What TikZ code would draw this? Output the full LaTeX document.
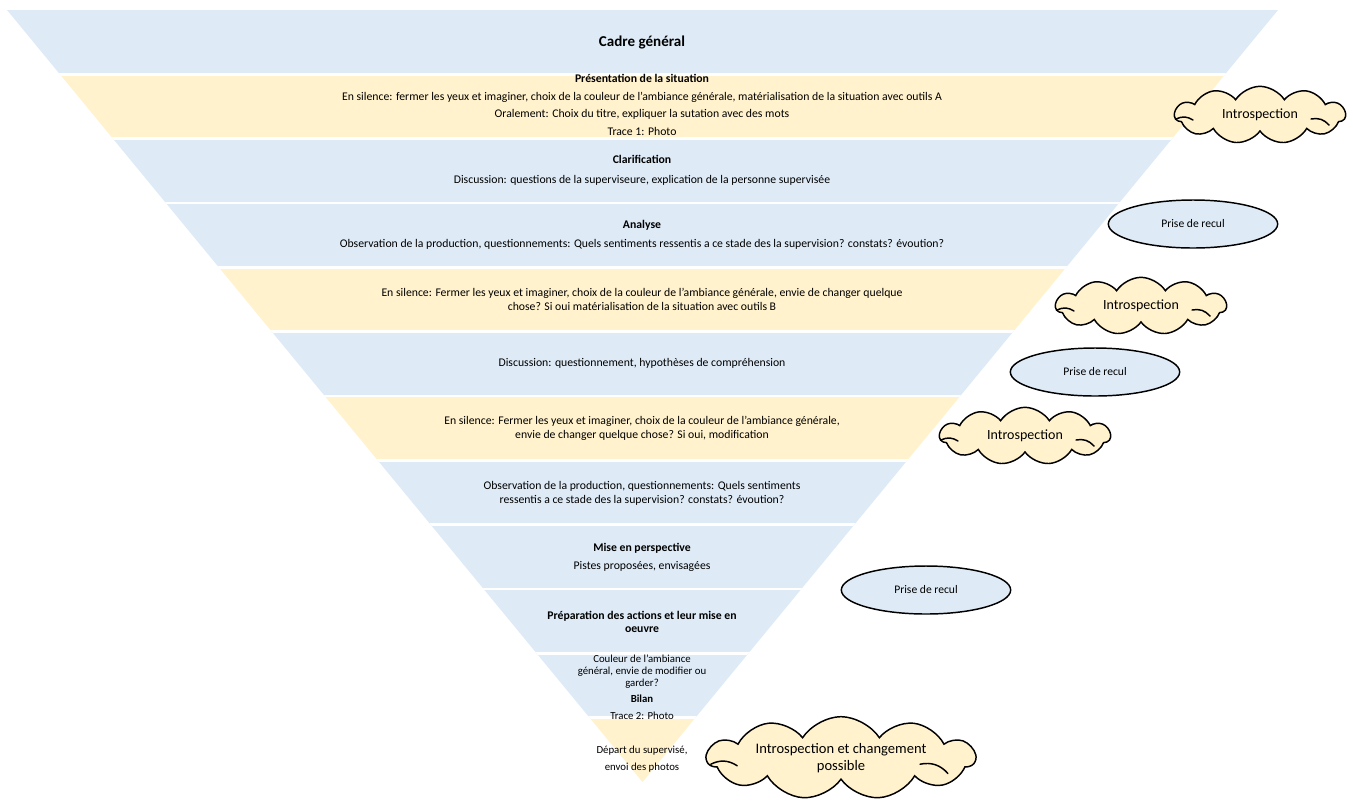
\documentclass[tikz,border=0pt]{standalone}
\usepackage{fontspec}
\setmainfont{Carlito}
\usetikzlibrary{shapes.symbols}
\usetikzlibrary{shapes.geometric}
\definecolor{bandblue}{HTML}{DEEBF7}
\definecolor{bandyellow}{HTML}{FFF2CC}
\tikzset{
  bandtext/.style={align=center, inner sep=0pt, font=\fontsize{8.8}{10.5}\selectfont},
  recul/.style={ellipse, draw=black, line width=1.1pt, fill=bandblue, minimum width=127pt,
    minimum height=36pt, inner sep=0pt, font=\fontsize{8.7}{10}\selectfont},
  intro/.style={cloud, cloud puffs=11, cloud puff arc=115, cloud ignores aspect, draw=black,
    line width=1.1pt, fill=bandyellow, minimum width=128pt, minimum height=43pt, inner sep=0pt,
    align=center, font=\fontsize{10.5}{12}\selectfont},
  curl/.style={line width=1.1pt, line cap=round}
}
% small inner arcs of the clouds
\newcommand\cloudcurls[2]{%
  \draw [curl] (#1.center) ++(-84*#2,4*#2) to[bend left=30] ++(17*#2,1*#2);
  \draw [curl] (#1.center) ++(51*#2,4*#2) to[bend left=30] ++(18*#2,6*#2);
}
\begin{document}
\begin{tikzpicture}[x=0.75pt, y=-0.75pt]
    \useasboundingbox (0,0) rectangle (1353,801);

    % inverted pyramid, one band per step
    \begin{scope}
      \clip (7,10) -- (1278,10) -- (642.5,782) -- cycle;
      \foreach \col [count=\i from 0] in {bandblue,bandyellow,bandblue,bandblue,bandyellow,bandblue,
          bandyellow,bandblue,bandblue,bandblue,bandblue,bandyellow}
        \fill [\col] (0,10+\i*64.33) rectangle (1353,74.33+\i*64.33);
      \foreach \i in {1,...,11}
        \draw [white, line width=1.9pt] (0,10+\i*64.33) -- (1353,10+\i*64.33);
    \end{scope}

    \node [bandtext, font=\fontsize{11.3}{13}\bfseries] (cadre) at (642,42) {Cadre général};
    \node [bandtext, font=\fontsize{8.8}{13.3}\selectfont] (presentation) at (642,105)
      {\textbf{Présentation de la situation}\\
       En silence: fermer les yeux et imaginer, choix de la couleur de l'ambiance générale, matérialisation de la situation avec outils A\\
       Oralement: Choix du titre, expliquer la sutation avec des mots\\
       Trace 1: Photo};
    \node [bandtext, font=\fontsize{8.8}{15}\selectfont] (clarif) at (642,170)
      {\textbf{Clarification}\\
       Discussion: questions de la superviseure, explication de la personne supervisée};
    \node [bandtext, font=\fontsize{8.8}{14.3}\selectfont] (analyse) at (642,235)
      {\textbf{Analyse}\\
       Observation de la production, questionnements: Quels sentiments ressentis a ce stade des la supervision? constats? évoution?};
    \node [bandtext] (silenceB) at (642,299)
      {En silence: Fermer les yeux et imaginer, choix de la couleur de l'ambiance générale, envie de changer quelque\\
       chose? Si oui matérialisation de la situation avec outils B};
    \node [bandtext] (discussion) at (642,363) {Discussion: questionnement, hypothèses de compréhension};
    \node [bandtext] (silenceC) at (642,428)
      {En silence: Fermer les yeux et imaginer, choix de la couleur de l'ambiance générale,\\
       envie de changer quelque chose? Si oui, modification};
    \node [bandtext] (observation) at (642,493)
      {Observation de la production, questionnements: Quels sentiments\\
       ressentis a ce stade des la supervision? constats? évoution?};
    \node [bandtext, font=\fontsize{8.8}{13.5}\selectfont] (perspective) at (642,557)
      {\textbf{Mise en perspective}\\
       Pistes proposées, envisagées};
    \node [bandtext, font=\fontsize{8.8}{10}\bfseries] (preparation) at (642,622)
      {Préparation des actions et leur mise en\\oeuvre};
    \node [bandtext, font=\fontsize{8.1}{9}\selectfont] (bilan) at (642,687)
      {Couleur de l'ambiance\\
       général, envie de modifier ou\\
       garder?\\[3pt]
       \textbf{Bilan}\\[3.5pt]
       Trace 2: Photo};
    \node [bandtext, font=\fontsize{8.1}{12.8}\selectfont] (depart) at (642,759)
      {Départ du supervisé,\\
       envoi des photos};

    % prises de recul
    \node [recul] (recul1) at (1193,224) {Prise de recul};
    \node [recul] (recul2) at (1095,372) {Prise de recul};
    \node [recul] (recul3) at (926,590) {Prise de recul};

    % introspections
    \node [intro] (intro1) at (1260,115) {Introspection};
    \node [intro] (intro2) at (1141,306) {Introspection};
    \node [intro] (intro3) at (1025,436) {Introspection};
    \node [intro, minimum width=201pt, minimum height=62pt, font=\fontsize{10.9}{13}\selectfont]
      (intro4) at (841,758) {Introspection et changement\\possible};
    \cloudcurls{intro1}{1}
    \cloudcurls{intro2}{1}
    \cloudcurls{intro3}{1}
    \cloudcurls{intro4}{1.55}
\end{tikzpicture}
\end{document}
